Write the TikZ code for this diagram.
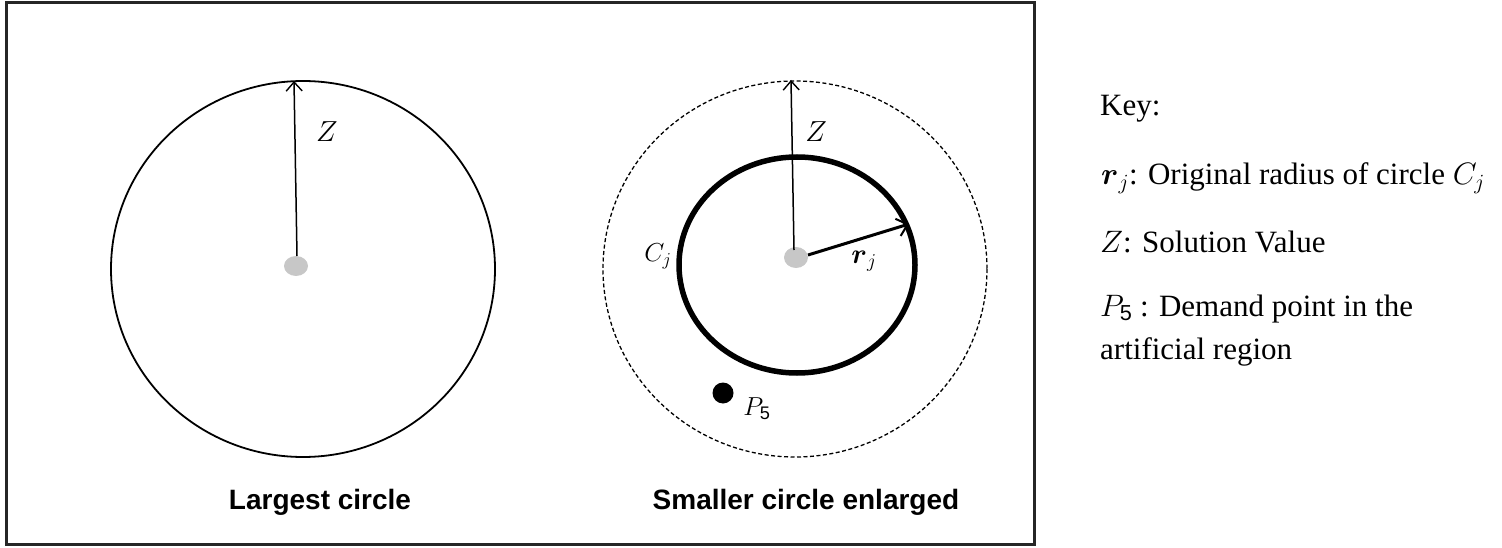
\RequirePackage{fix-cm}
\documentclass[tikz,border=0pt]{standalone}
\usepackage{amsmath}
\usepackage{fontspec}
\setmainfont{Liberation Serif}
\setsansfont{Liberation Sans}
\usetikzlibrary{arrows.meta}
\begin{document}
\begin{tikzpicture}[x=1pt,y=-1pt,
  frame/.style={line width=3pt, draw=black!85},
  thin circle/.style={line width=1.8pt},
  thick circle/.style={line width=5.5pt},
  dashed circle/.style={line width=1.3pt, dash pattern=on 4pt off 2.5pt},
  graydot/.style={fill=black!22, draw=none},
  arr/.style={-{Straight Barb[length=9pt,width=16pt,line width=1.4pt]}, line width=1.5pt},
  thickarr/.style={-{Straight Barb[length=10pt,width=18pt,line width=2pt]}, line width=3pt},
  lbl/.style={font=\sffamily\bfseries\fontsize{28}{32}\selectfont, inner sep=0, anchor=base},
  mathlbl/.style={font=\fontsize{29}{33}\selectfont, inner sep=0},
  keytxt/.style={anchor=base west, font=\fontsize{31}{36}\selectfont, inner sep=0}]
\useasboundingbox (0,0) rectangle (1502,548);
\draw[frame] (6.5,2.5) rectangle (1034,544);
% left circle
\draw[thin circle] (303,269) ellipse [x radius=192, y radius=188];
\fill[graydot] (296,266) ellipse [x radius=12, y radius=10];
\coordinate (cL) at (297,256);
\coordinate (tL) at (294,81);
\draw[arr] (cL) -- (tL);
\node[mathlbl] (zL) at (327,132) {$Z$};
% right circles
\draw[dashed circle] (795,269) ellipse [x radius=192, y radius=188];
\draw[thick circle] (797,265) ellipse [x radius=118, y radius=108];
\fill[graydot] (796,257.5) ellipse [x radius=12, y radius=10.5];
\coordinate (cR) at (794,250);
\coordinate (tR) at (791,80);
\draw[arr] (cR) -- (tR);
\coordinate (cR2) at (808,255);
\coordinate (rR) at (909,224);
\draw[thickarr] (cR2) -- (rR);
\node[mathlbl] (zR) at (816,132) {$Z$};
\node[font=\fontsize{26}{30}\selectfont, inner sep=0] (cj) at (658,256) {$C_j$};
\node[font=\fontsize{28}{32}\selectfont, inner sep=0] (rj) at (864,261) {$\boldsymbol{r}_j$};
\fill (723,393) circle [radius=10.5];
\node[font=\fontsize{26}{30}\selectfont, inner sep=0] (p5) at (757,409) {$P_{\mathsf{5}}$};
% captions
\node[lbl] (capL) at (320,509) {Largest circle};
\node[lbl] (capR) at (806,509) {Smaller circle enlarged};
% key
\node[keytxt] (k0) at (1100,116) {Key:};
\node[keytxt] (k1) at (1101,185) {$\boldsymbol{r}_j$: Original radius of circle $C_j$};
\node[keytxt] (k2) at (1100,253) {$Z$: Solution Value};
\node[keytxt] (k3) at (1100,316) {$P_{\mathsf{5}}$ : Demand point in the};
\node[keytxt] (k4) at (1100,359) {artificial region};
\end{tikzpicture}
\end{document}
